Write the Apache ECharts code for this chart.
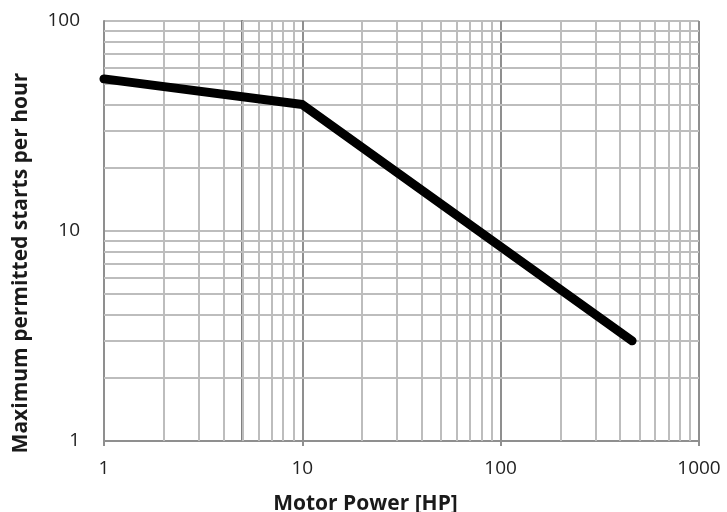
<!DOCTYPE html>
<html>
<head>
<meta charset="utf-8">
<script src="https://cdn.jsdelivr.net/npm/echarts@6/dist/echarts.min.js"></script>
<style>
  html, body { margin: 0; padding: 0; background: #fff; }
  #chart { width: 727px; height: 512px; }
</style>
</head>
<body>
<div id="chart"></div>
<script>
// motor power [HP] vs max starts per hour
var power = [1, 10, 460];
var starts = [53, 40, 3];

var xTicks = [1, 10, 100, 1000];
var yTicks = [1, 10, 100];
var minorSteps = [2, 3, 4, 5, 6, 7, 8, 9];

function minorLines(decades) {
    var out = [];
    decades.forEach(function (d) {
        minorSteps.forEach(function (m) { out.push(d * m); });
    });
    return out;
}
var xMinor = minorLines([1, 10, 100]);
var yMinor = minorLines([1, 10]);

var gridColor = '#bdbdbd';
var majorColor = '#8f8f8f';
var font = 'Open Sans';

var gridLines = [];
xMinor.forEach(function (v) { gridLines.push({xAxis: v}); });
yMinor.forEach(function (v) { gridLines.push({yAxis: v}); });

var chart = echarts.init(document.getElementById('chart'));
chart.setOption({
    animation: false,
    grid: {
        left: 104,
        right: 28,
        top: 21,
        bottom: 71,
        containLabel: false,
        outerBoundsMode: 'none'
    },
    xAxis: {
        type: 'log',
        logBase: 10,
        min: 1,
        max: 1000,
        name: 'Motor Power [HP]',
        nameLocation: 'middle',
        nameGap: 53,
        nameTextStyle: {
            fontFamily: font, fontWeight: 'bold', fontSize: 21, color: '#1a1a1a',
            padding: [0, 72, 0, 0]
        },
        axisLine: {lineStyle: {color: majorColor, width: 2}},
        axisTick: {show: true, length: 5, lineStyle: {color: majorColor, width: 2}},
        axisLabel: {
            fontFamily: font, fontSize: 19, color: '#222', margin: 18,
            formatter: function (v) { return xTicks.indexOf(Math.round(v)) >= 0 ? String(Math.round(v)) : ''; }
        },
        splitLine: {show: true, lineStyle: {color: majorColor, width: 2}}
    },
    yAxis: [
        {
            type: 'log',
            logBase: 10,
            min: 1,
            max: 100,
            name: 'Maximum permitted starts per hour',
            nameLocation: 'middle',
            nameGap: 72,
            nameTextStyle: {
                fontFamily: font, fontWeight: 'bold', fontSize: 21, color: '#1a1a1a',
                padding: [0, 64, 0, 0]
            },
            axisLine: {show: true, lineStyle: {color: majorColor, width: 2}},
            axisTick: {show: false},
            axisLabel: {
                fontFamily: font, fontSize: 19, color: '#222', margin: 24,
                formatter: function (v) { return yTicks.indexOf(Math.round(v)) >= 0 ? String(Math.round(v)) : ''; }
            },
            splitLine: {show: true, lineStyle: {color: gridColor, width: 2}}
        },
        {
            // excel-style vertical axis crossing at x = 5
            type: 'log',
            logBase: 10,
            min: 1,
            max: 100,
            position: 'left',
            offset: -138,
            axisLine: {show: true, lineStyle: {color: '#808080', width: 2}},
            axisTick: {show: false},
            axisLabel: {show: false},
            splitLine: {show: false}
        }
    ],
    series: [
        {
            name: 'grid',
            type: 'line',
            data: [],
            silent: true,
            z: 1,
            markLine: {
                silent: true,
                symbol: 'none',
                animation: false,
                label: {show: false},
                lineStyle: {color: gridColor, width: 2, type: 'solid'},
                data: gridLines
            }
        },
        {
            name: 'starts',
            type: 'line',
            z: 5,
            data: power.map(function (p, i) { return [p, starts[i]]; }),
            showSymbol: false,
            symbol: 'none',
            lineStyle: {color: '#000', width: 9, cap: 'round', join: 'round'}
        }
    ]
});
</script>
</body>
</html>
